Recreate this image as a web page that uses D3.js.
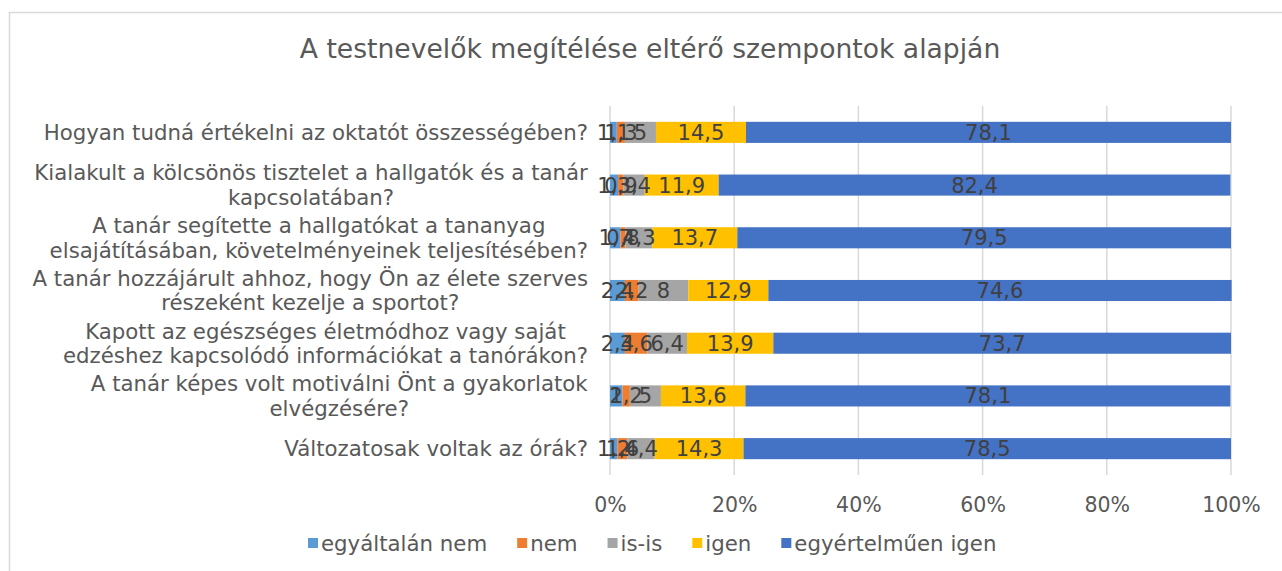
<!DOCTYPE html>
<html>
<head>
<meta charset="utf-8">
<script src="https://cdn.jsdelivr.net/npm/d3@7"></script>
<style>
  body { margin: 0; background: #fff; }
  text { font-family: "DejaVu Sans", Verdana, sans-serif; }
</style>
</head>
<body>
<div id="chart"></div>
<script>
// chart data
var title = "A testnevelők megítélése eltérő szempontok alapján";
var categories = [
  ["Hogyan tudná értékelni az oktatót összességében?"],
  ["Kialakult a kölcsönös tisztelet a hallgatók és a tanár", "kapcsolatában?"],
  ["A tanár segítette a hallgatókat a tananyag", "elsajátításában, követelményeinek teljesítésében?"],
  ["A tanár hozzájárult ahhoz, hogy Ön az élete szerves", "részeként kezelje a sportot?"],
  ["Kapott az egészséges életmódhoz vagy saját", "edzéshez kapcsolódó információkat a tanórákon?"],
  ["A tanár képes volt motiválni Önt a gyakorlatok", "elvégzésére?"],
  ["Változatosak voltak az órák?"]
];
var seriesNames = ["egyáltalán nem", "nem", "is-is", "igen", "egyértelműen igen"];
var egyaltalanNem = [1.1, 1.3, 1.7, 2.4, 2.4, 2, 1.2];
var nem = [1.3, 0.9, 0.8, 2.2, 3.6, 1.2, 1.6];
var isIs = [5, 3.4, 4.3, 8, 6.4, 5, 4.4];
var igen = [14.5, 11.9, 13.7, 12.9, 13.9, 13.6, 14.3];
var egyertelmuenIgen = [78.1, 82.4, 79.5, 74.6, 73.7, 78.1, 78.5];
var tickValues = [0, 20, 40, 60, 80, 100];
var colors = ["#5B9BD5", "#ED7D31", "#A5A5A5", "#FFC000", "#4472C4"];

var width = 1282, height = 571;
var svg = d3.select("#chart").append("svg").attr("width", width).attr("height", height);

// outer border of the chart area
svg.append("rect").attr("x", 9.5).attr("y", 12.5).attr("width", 1290).attr("height", 600)
  .attr("fill", "none").attr("stroke", "#d9d9d9").attr("stroke-width", 1.5);

svg.append("text").attr("x", 650).attr("y", 58).attr("text-anchor", "middle")
  .attr("font-size", 26.6).attr("fill", "#595959").text(title);

var rows = categories.map(function (c, i) {
  return {
    key: i,
    "egyáltalán nem": egyaltalanNem[i],
    "nem": nem[i],
    "is-is": isIs[i],
    "igen": igen[i],
    "egyértelműen igen": egyertelmuenIgen[i]
  };
});

var x = d3.scaleLinear().domain([0, 100]).range([610, 1231]);
var y = d3.scaleBand().domain(d3.range(categories.length)).range([106, 475]).paddingInner(0.6).paddingOuter(0.3);

// gridlines
svg.append("g").selectAll("line").data(tickValues).enter().append("line")
  .attr("x1", function (d) { return x(d); }).attr("x2", function (d) { return x(d); })
  .attr("y1", 106).attr("y2", 475)
  .attr("stroke", "#d9d9d9").attr("stroke-width", 1.5);

var stack = d3.stack().keys(seriesNames);
var layers = stack(rows);

var g = svg.append("g");
layers.forEach(function (layer, li) {
  g.append("g").attr("fill", colors[li]).selectAll("rect").data(layer).enter().append("rect")
    .attr("x", function (d) { return x(d[0]); })
    .attr("width", function (d) { return x(d[1]) - x(d[0]); })
    .attr("y", function (d, i) { return y(i); })
    .attr("height", y.bandwidth());
});

// data labels
layers.forEach(function (layer) {
  g.append("g").selectAll("text").data(layer).enter().append("text")
    .attr("x", function (d) { return (x(d[0]) + x(d[1])) / 2; })
    .attr("y", function (d, i) { return y(i) + y.bandwidth() / 2; })
    .attr("dy", "0.36em")
    .attr("text-anchor", "middle")
    .attr("font-size", 21)
    .attr("fill", "#404040")
    .text(function (d) { return String(+(d[1] - d[0]).toFixed(1)).replace(".", ","); });
});

// category labels
var catG = svg.append("g");
categories.forEach(function (lines, i) {
  var cy = y(i) + y.bandwidth() / 2;
  var t = catG.append("text").attr("font-size", 21.3).attr("fill", "#595959").attr("text-anchor", "middle");
  var n = lines.length;
  lines.forEach(function (line, j) {
    t.append("tspan").attr("x", 0).attr("y", cy + (j - (n - 1) / 2) * 24.5).attr("dy", "0.36em").text(line);
  });
  // right-align the centered block at the axis
  var w = t.node().getBBox().width;
  t.selectAll("tspan").attr("x", 588 - w / 2);
});

// x axis
var axis = d3.axisBottom(x).tickValues(tickValues).tickSize(0).tickPadding(0)
  .tickFormat(function (d) { return d + "%"; });
var ax = svg.append("g").attr("transform", "translate(0,497)").call(axis);
ax.select(".domain").remove();
ax.selectAll("text").attr("font-size", 20.5).attr("fill", "#595959")
  .attr("font-family", "DejaVu Sans, Verdana, sans-serif");

// legend
var leg = svg.append("g");
var lx = 308;
seriesNames.forEach(function (name, i) {
  leg.append("rect").attr("x", lx).attr("y", 538).attr("width", 10).attr("height", 10).attr("fill", colors[i]);
  var t = leg.append("text").attr("x", lx + 13).attr("y", 543).attr("dy", "0.36em")
    .attr("font-size", 21.3).attr("fill", "#595959").text(name);
  lx += 13 + t.node().getComputedTextLength() + 30;
});
</script>
</body>
</html>
